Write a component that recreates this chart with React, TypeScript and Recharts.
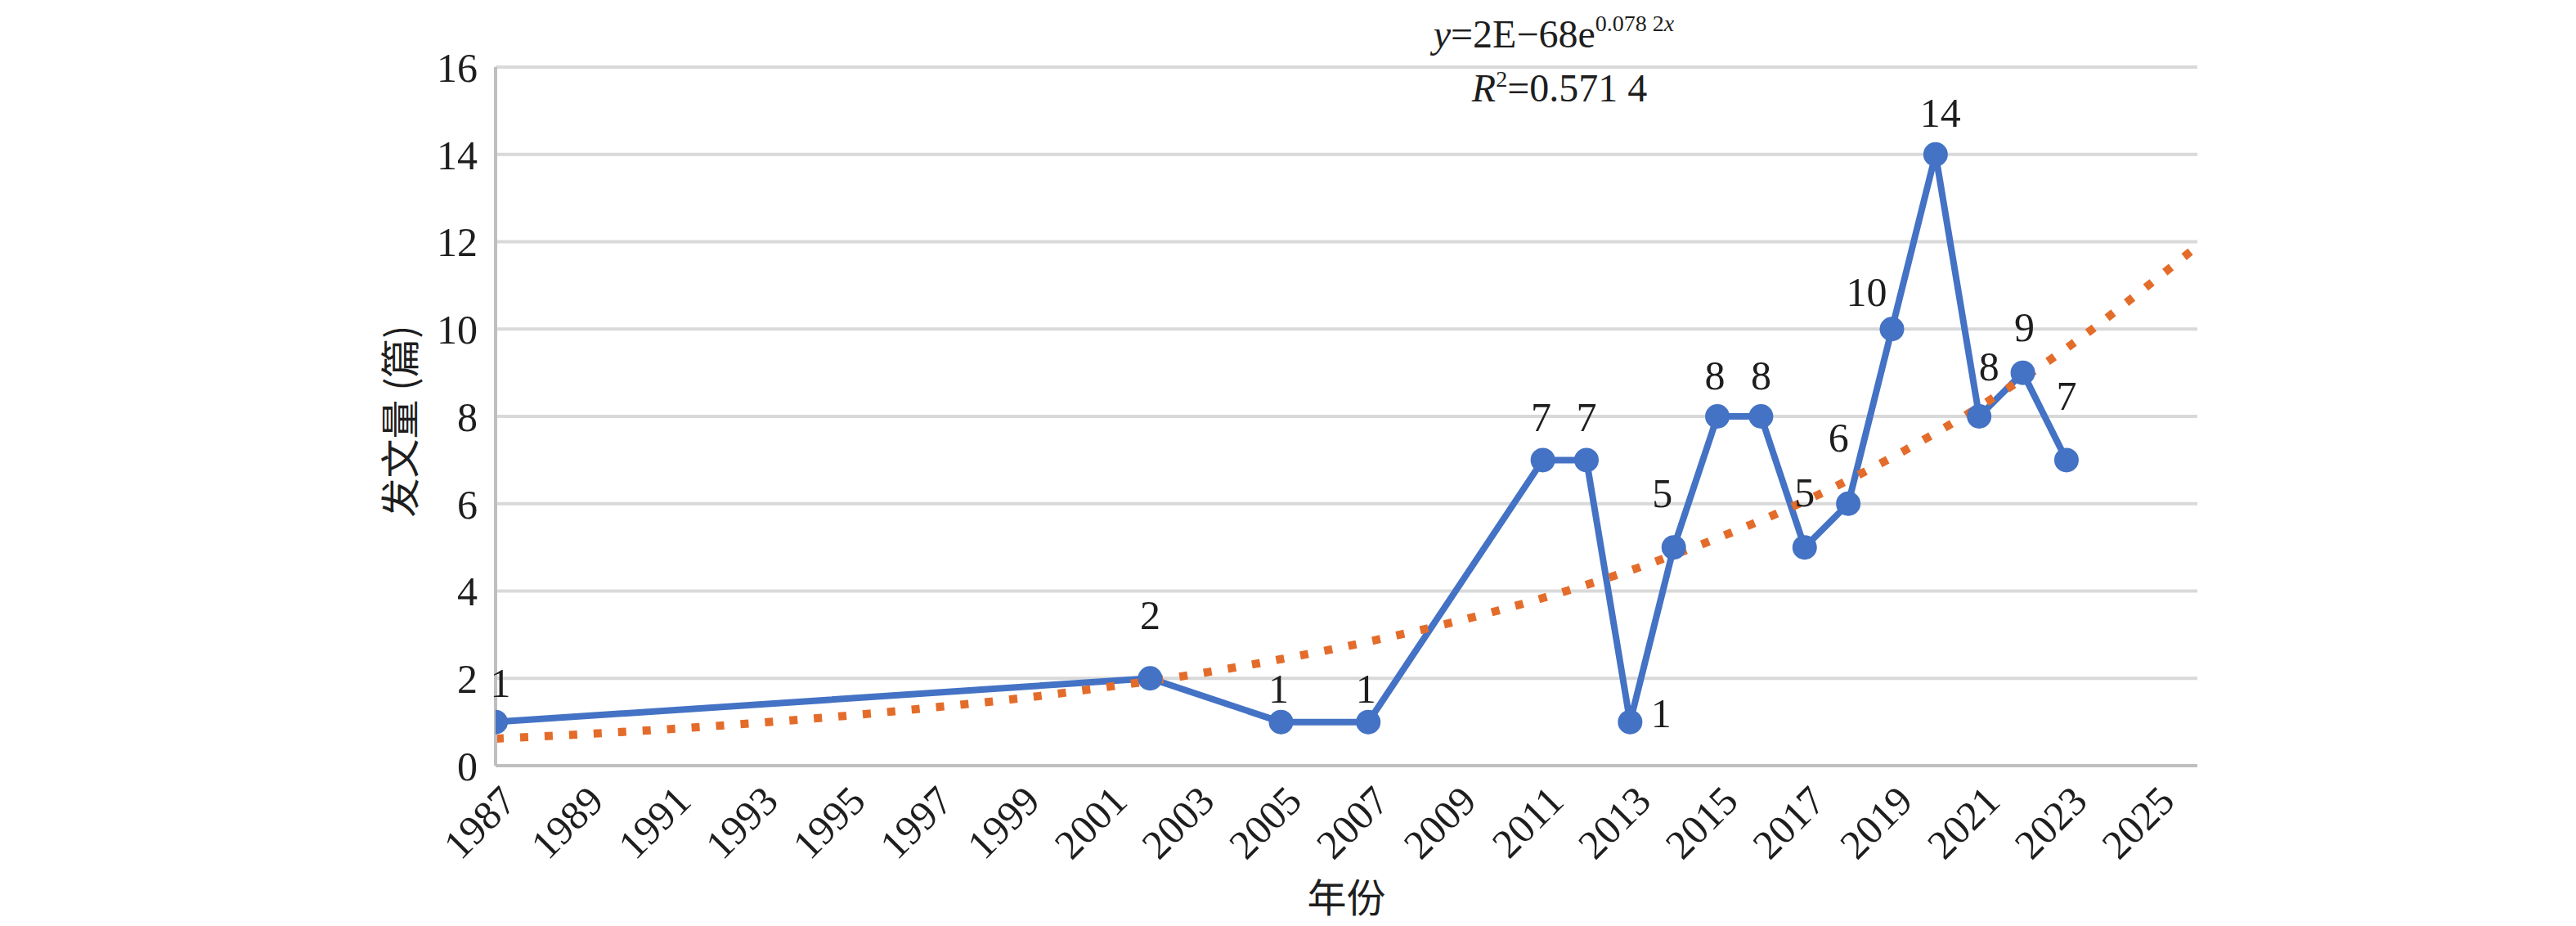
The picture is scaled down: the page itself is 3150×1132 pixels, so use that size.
import React from 'react';
import { LineChart, Line, XAxis, YAxis, CartesianGrid, LabelList, Label } from 'recharts';

// ---- data ----
const years = [1987, 2002, 2005, 2007, 2011, 2012, 2013, 2014, 2015, 2016, 2017, 2018, 2019, 2020, 2021, 2022, 2023];
const counts = [1, 2, 1, 1, 7, 7, 1, 5, 8, 8, 5, 6, 10, 14, 8, 9, 7];

// exponential trend line
const trendYears = [1987, 1989, 1991, 1993, 1995, 1997, 1999, 2001, 2003, 2005, 2007, 2009, 2011, 2013, 2015, 2017, 2019, 2021, 2023, 2025, 2026];
const trendValues = [0.62, 0.72, 0.84, 0.98, 1.14, 1.33, 1.54, 1.8, 2.09, 2.44, 2.84, 3.3, 3.84, 4.47, 5.21, 6.06, 7.06, 8.22, 9.56, 11.1, 11.9];

const xTicks = [1987, 1989, 1991, 1993, 1995, 1997, 1999, 2001, 2003, 2005, 2007, 2009, 2011, 2013, 2015, 2017, 2019, 2021, 2023, 2025];
const yTicks = [0, 2, 4, 6, 8, 10, 12, 14, 16];

const xTitle = '年份';
const yTitle = '发文量 (篇)';
const eqMain = '=2E\u221268e';
const eqExp = '0.078 2';
const r2Value = '=0.571 4';

// ---- layout (label placement relative to each point, px) ----
const labelOffsets: [number, number][] = [
  [6, -48], [0, -77], [-3, -41], [-3, -41], [-2, -52], [0, -52], [38, -11], [-14, -66],
  [-3, -50], [0, -50], [0, -67], [-12, -81], [-31, -45], [6, -51], [12, -61], [2, -56], [0, -78],
];

const mainData = years.map((y, i) => ({ year: y, count: counts[i] }));
const trendData = trendYears.map((y, i) => ({ year: y, trend: trendValues[i] }));

const SERIF = '"Liberation Serif", "Times New Roman", serif';
const CJK = '"Noto Sans CJK SC", sans-serif';
const TEXT = '#1e1e1e';
const FS = 50;

const XTick = (props: any) => {
  const { x, y, payload } = props;
  const ax = x + 28;
  const ay = y + 46;
  return (
    <text x={ax} y={ay} textAnchor="end" transform={`rotate(-45 ${ax} ${ay})`}
      fontSize={FS} fontFamily={SERIF} fill={TEXT}>
      {payload.value}
    </text>
  );
};

const DataLabel = (props: any) => {
  const { x, y, value, index } = props;
  const off = labelOffsets[index] || [0, -50];
  return (
    <text x={x + off[0]} y={y + off[1] + FS * 0.34} textAnchor="middle"
      fontSize={FS} fontFamily={SERIF} fill={TEXT}>
      {value}
    </text>
  );
};

export default function App() {
  return (
    <div style={{ position: 'absolute', left: 0, top: 0, width: 3150, height: 1132, background: '#fff' }}>
      <LineChart width={3150} height={1132} margin={{ top: 82, right: 463, bottom: 0, left: 0 }}>
        <CartesianGrid horizontal vertical={false} stroke="#D9D9D9" strokeWidth={4} />
        <XAxis type="number" dataKey="year" domain={[1987, 2026]} ticks={xTicks} allowDataOverflow
          height={196} tickLine={false} tickSize={0} tickMargin={0}
          axisLine={{ stroke: '#BFBFBF', strokeWidth: 4 }} tick={<XTick />} interval={0}>
          <Label content={(p: any) => {
            const vb = p.viewBox;
            return (
              <text x={vb.x + vb.width / 2} y={vb.y + 162 + 17} textAnchor="middle"
                fontSize={48} fontFamily={CJK} fill={TEXT}>{xTitle}</text>
            );
          }} />
        </XAxis>
        <YAxis type="number" domain={[0, 16]} ticks={yTicks} width={606} tickLine={false}
          tickSize={0} tickMargin={22} axisLine={{ stroke: '#BFBFBF', strokeWidth: 4 }}
          tick={{ fontSize: FS, fontFamily: SERIF, fill: TEXT }} interval={0}>
          <Label content={(p: any) => {
            const vb = p.viewBox;
            const cx = 486;
            const cy = vb.y + vb.height / 2 + 6;
            return (
              <text x={cx} y={cy} textAnchor="middle" dominantBaseline="central"
                transform={`rotate(-90 ${cx} ${cy})`} fontSize={48} fontFamily={CJK} fill={TEXT}>
                {yTitle}
              </text>
            );
          }} />
        </YAxis>
        <Line data={mainData} dataKey="count" type="linear" stroke="#4472C4" strokeWidth={8}
          dot={{ r: 15, fill: '#4472C4', stroke: 'none' }} isAnimationActive={false}>
          <LabelList dataKey="count" content={<DataLabel />} />
        </Line>
        <Line data={trendData} dataKey="trend" type="monotone" stroke="#E46C2B" strokeWidth={10}
          strokeDasharray="10 20" strokeLinecap="butt" dot={false} activeDot={false} isAnimationActive={false} />
      </LineChart>
      <svg width={3150} height={1132} style={{ position: 'absolute', left: 0, top: 0, pointerEvents: 'none' }}>
        <text x={1900} y={58} textAnchor="middle" fontSize={48} fontFamily={SERIF} fill={TEXT}>
          <tspan fontStyle="italic">y</tspan>
          <tspan>{eqMain}</tspan>
          <tspan dy={-20} fontSize={28}>{eqExp}</tspan>
          <tspan fontSize={28} fontStyle="italic">x</tspan>
        </text>
        <text x={1907} y={124} textAnchor="middle" fontSize={48} fontFamily={SERIF} fill={TEXT}>
          <tspan fontStyle="italic">R</tspan>
          <tspan dy={-18} fontSize={28}>2</tspan>
          <tspan dy={18}>{r2Value}</tspan>
        </text>
      </svg>
    </div>
  );
}
